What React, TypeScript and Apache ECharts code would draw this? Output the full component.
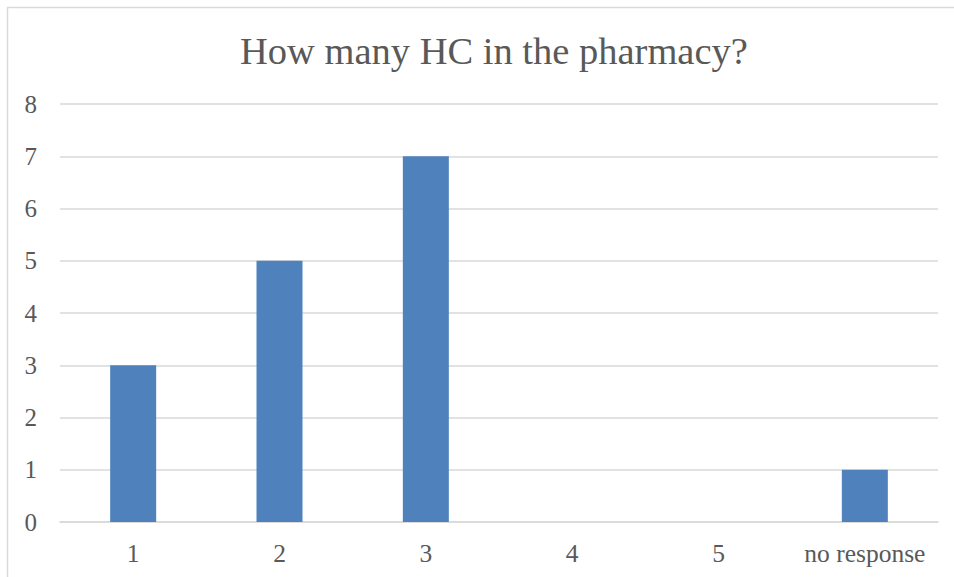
import React, { useEffect, useRef } from "react";
import * as echarts from "echarts";

const categories = ["1", "2", "3", "4", "5", "no response"];
const counts = [3, 5, 7, 0, 0, 1];
const titleText = "How many HC in the pharmacy?";
const yMin = 0;
const yMax = 8;
const yStep = 1;

export default function App() {
  const ref = useRef<HTMLDivElement>(null);
  useEffect(() => {
    document.body.style.margin = "0";
    const chart = echarts.init(ref.current!, null, { renderer: "svg" });
    const font = "'Liberation Serif', serif";
    chart.setOption({
      animation: false,
      backgroundColor: "#ffffff",
      title: {
        text: titleText,
        left: 235,
        top: 26,
        textStyle: { fontFamily: font, fontSize: 38.5, fontWeight: "normal", color: "#595959" },
      },
      graphic: [
        {
          type: "rect",
          shape: { x: 7.5, y: 7.5, width: 960, height: 600 },
          style: { fill: "none", stroke: "#d9d9d9", lineWidth: 1.5 },
          silent: true,
          z: -1,
        },
      ],
      grid: { left: 60, right: 16, top: 104, bottom: 55, containLabel: false },
      xAxis: {
        type: "category",
        data: categories,
        axisLine: { show: true, lineStyle: { color: "#d9d9d9", width: 1.5 } },
        axisTick: { show: false },
        axisLabel: { color: "#595959", fontFamily: font, fontSize: 25.5, margin: 18, interval: 0 },
      },
      yAxis: {
        type: "value",
        min: yMin,
        max: yMax,
        interval: yStep,
        axisLine: { show: false },
        axisTick: { show: false },
        splitLine: { lineStyle: { color: "#d9d9d9", width: 1.5 } },
        axisLabel: { color: "#595959", fontFamily: font, fontSize: 25, margin: 23 },
      },
      series: [
        {
          type: "bar",
          data: counts,
          barWidth: 46,
          itemStyle: { color: "#4f81bd" },
        },
      ],
    });
    return () => chart.dispose();
  }, []);
  return <div ref={ref} style={{ width: 954, height: 577 }} />;
}
